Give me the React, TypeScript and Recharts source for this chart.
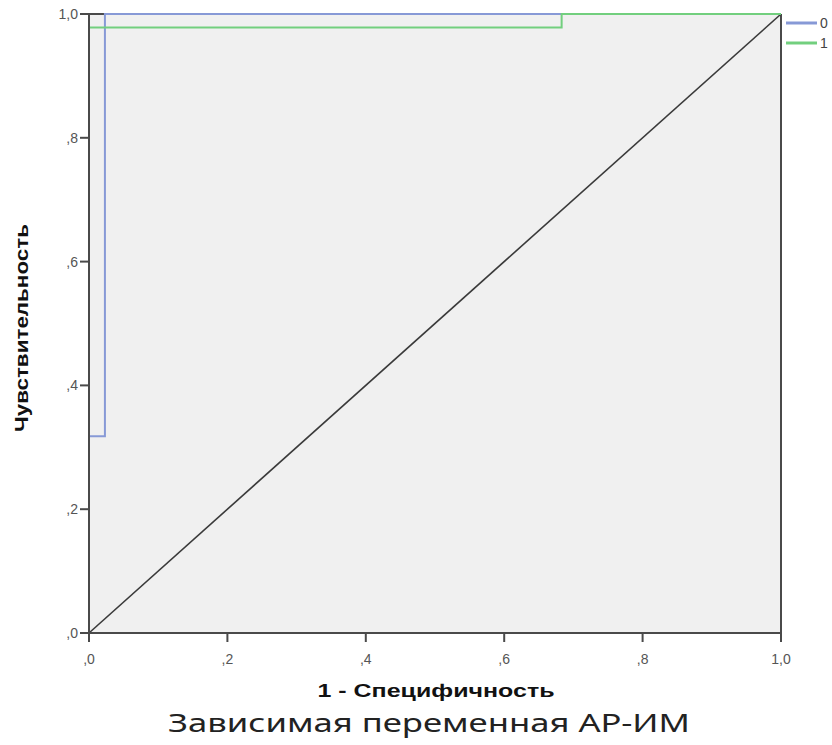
import { LineChart, Line, XAxis, YAxis, CartesianGrid, ReferenceLine } from 'recharts';

// ROC curves: 1 - specificity (fpr) vs sensitivity (tpr)
const fpr0 = [0, 0, 0.023, 0.023, 1];
const tpr0 = [0, 0.318, 0.318, 1, 1];
const fpr1 = [0, 0, 0.683, 0.683, 1];
const tpr1 = [0, 0.978, 0.978, 1, 1];
const diagFpr = [0, 1];
const diagTpr = [0, 1];

const axisTicks = [0, 0.2, 0.4, 0.6, 0.8, 1];
const seriesNames = ['0', '1'];
const seriesColors = ['#8799d6', '#72cf7e'];

const xTitle = '1 - Специфичность';
const yTitle = 'Чувствительность';
const subtitle = 'Зависимая переменная АР-ИМ';

const toPoints = (xs: number[], ys: number[]) => xs.map((x, i) => ({ fpr: x, tpr: ys[i] }));

const curve0 = toPoints(fpr0, tpr0);
const curve1 = toPoints(fpr1, tpr1);
const diagonal = toPoints(diagFpr, diagTpr);

// SPSS style: ",2" instead of "0.2"
const fmt = (v: number) => {
  const s = v.toFixed(1).replace('.', ',');
  return s.startsWith('0') ? s.slice(1) : s;
};

const tickStyle = { fill: '#555', fontSize: 14, fontFamily: 'Liberation Sans, Arial, sans-serif' };
const frame = '#4a4a4a';

export default function App() {
  return (
    <div style={{ position: 'absolute', left: 0, top: 0, width: 832, height: 745, background: '#fff' }}>
      <LineChart width={832} height={745} margin={{ top: 14, right: 51, bottom: 82, left: 29 }}>
        <CartesianGrid fill="#f0f0f0" horizontal={false} vertical={false} />
        <XAxis
          dataKey="fpr"
          type="number"
          domain={[0, 1]}
          ticks={axisTicks}
          tickFormatter={fmt}
          tick={{ ...tickStyle, dy: 10 }}
          tickSize={9}
          height={30}
          stroke={frame}
          tickLine={{ stroke: frame, strokeWidth: 2 }}
          axisLine={{ stroke: frame, strokeWidth: 2 }}
        />
        <YAxis
          dataKey="tpr"
          type="number"
          domain={[0, 1]}
          ticks={axisTicks}
          tickFormatter={fmt}
          tick={tickStyle}
          tickSize={9}
          width={60}
          stroke={frame}
          tickLine={{ stroke: frame, strokeWidth: 2 }}
          axisLine={{ stroke: frame, strokeWidth: 2 }}
        />
        <ReferenceLine y={1} stroke={frame} strokeWidth={2} />
        <ReferenceLine x={1} stroke={frame} strokeWidth={2} />
        <Line data={diagonal} dataKey="tpr" type="linear" stroke="#3a3a3a" strokeWidth={1.6} dot={false} isAnimationActive={false} />
        <Line data={curve0} dataKey="tpr" name={seriesNames[0]} type="linear" stroke={seriesColors[0]} strokeWidth={2} dot={false} isAnimationActive={false} />
        <Line data={curve1} dataKey="tpr" name={seriesNames[1]} type="linear" stroke={seriesColors[1]} strokeWidth={2} dot={false} isAnimationActive={false} />
      </LineChart>

      {/* titles + legend */}
      <svg width={832} height={745} style={{ position: 'absolute', left: 0, top: 0, pointerEvents: 'none' }}>
        <text
          x={0}
          y={0}
          transform="translate(28 328) rotate(-90)"
          textAnchor="middle"
          fontFamily="Liberation Sans, Arial, sans-serif"
          fontWeight="bold"
          fontSize={19}
          textLength={208}
          lengthAdjust="spacingAndGlyphs"
          fill="#111"
        >
          {yTitle}
        </text>
        <text
          x={436}
          y={697}
          textAnchor="middle"
          fontFamily="Liberation Sans, Arial, sans-serif"
          fontWeight="bold"
          fontSize={19}
          textLength={237}
          lengthAdjust="spacingAndGlyphs"
          fill="#111"
        >
          {xTitle}
        </text>
        <text
          x={168}
          y={732}
          fontFamily="Noto Sans, Open Sans, sans-serif"
          fontSize={25}
          textLength={522}
          lengthAdjust="spacingAndGlyphs"
          fill="#222"
        >
          {subtitle}
        </text>
        {seriesNames.map((name, i) => (
          <g key={name}>
            <line x1={786} x2={817} y1={23 + i * 20} y2={23 + i * 20} stroke={seriesColors[i]} strokeWidth={3} />
            <text x={820} y={28 + i * 20} fontFamily="Liberation Sans, Arial, sans-serif" fontSize={14} fill="#444">
              {name}
            </text>
          </g>
        ))}
      </svg>
    </div>
  );
}
